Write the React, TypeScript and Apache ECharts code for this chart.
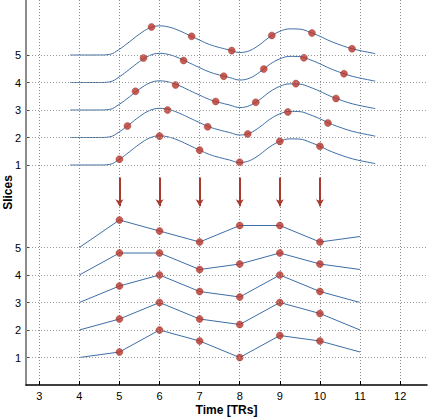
import React, { useEffect, useRef } from "react";
import * as echarts from "echarts";

// Underlying smooth signal, time in TRs
const curveTimes = [3.77, 4.0, 4.5, 4.75, 5.0, 5.25, 5.5, 5.75, 6.0, 6.25, 6.5, 6.75, 7.0, 7.25, 7.5, 7.75, 8.0, 8.25, 8.5, 8.75, 9.0, 9.25, 9.5, 9.75, 10.0, 10.25, 10.5, 10.75, 11.0, 11.38];
const curveValues = [0, 0, 0, 0.02, 0.21, 0.48, 0.76, 0.98, 1.06, 1.01, 0.88, 0.71, 0.54, 0.38, 0.27, 0.18, 0.09, 0.16, 0.38, 0.66, 0.86, 0.95, 0.94, 0.83, 0.68, 0.51, 0.37, 0.25, 0.16, 0.05];

const slices = [1, 2, 3, 4, 5];
const sliceOffsets = [0, 0.2, 0.4, 0.6, 0.8];
const trTimes = [5, 6, 7, 8, 9, 10];

// Sampled values on the top curves
const topSamples1 = [0.21, 1.05, 0.54, 0.1, 0.86, 0.68];
const topSamples2 = [0.42, 1.0, 0.39, 0.13, 0.93, 0.53];
const topSamples3 = [0.68, 0.91, 0.31, 0.28, 0.96, 0.42];
const topSamples4 = [0.89, 0.8, 0.23, 0.49, 0.9, 0.32];
const topSamples5 = [1.02, 0.68, 0.16, 0.71, 0.8, 0.23];
const topSamples = [topSamples1, topSamples2, topSamples3, topSamples4, topSamples5];

// Values plotted at TR times in the bottom panel
const bottomValues1 = [0.2, 1.0, 0.6, 0.0, 0.8, 0.6];
const bottomValues2 = [0.4, 1.0, 0.4, 0.2, 1.0, 0.6];
const bottomValues3 = [0.6, 1.0, 0.4, 0.2, 1.0, 0.4];
const bottomValues4 = [0.8, 0.8, 0.2, 0.4, 0.8, 0.4];
const bottomValues5 = [1.0, 0.6, 0.2, 0.8, 0.8, 0.2];
const bottomValues = [bottomValues1, bottomValues2, bottomValues3, bottomValues4, bottomValues5];
const bottomStartTime = 4;
const bottomStartValues = [0, 0, 0, 0, 0];
const bottomEndTime = 11;
const bottomEndValues = [0.2, 0.0, 0.0, 0.2, 0.4];

const topPanelShift = 7; // top panel slices drawn at 8..12
const arrowTimes = [5, 6, 7, 8, 9, 10];
const arrowFrom = 7.55;
const arrowTo = 6.5;

const LINE = "#3d6ea6";
const DOT = "#b8352a";
const ARROW = "#a63a2e";
const FONT = "'Liberation Sans', Arial, Helvetica, sans-serif";

export default function App() {
  const ref = useRef<HTMLDivElement>(null);
  useEffect(() => {
    document.body.style.margin = "0";
    const chart = echarts.init(ref.current!, null, { renderer: "svg" });

    const gridYs = [...slices, ...slices.map((s) => s + topPanelShift)];
    const series: any[] = [];

    series.push({
      type: "line",
      data: [],
      silent: true,
      markLine: {
        silent: true,
        symbol: "none",
        label: { show: false },
        lineStyle: { type: [1, 2], color: "#9a9a9a", width: 1 },
        data: gridYs.map((v) => ({ yAxis: v })),
        animation: false,
      },
    });
    series.push({
      type: "line",
      data: [],
      silent: true,
      markLine: {
        silent: true,
        symbol: ["none", "arrow"],
        symbolSize: [6, 7],
        label: { show: false },
        lineStyle: { type: "solid", color: ARROW, width: 2 },
        data: arrowTimes.map((t) => [
          { coord: [t, arrowFrom] },
          { coord: [t, arrowTo] },
        ]),
        animation: false,
      },
    });

    slices.forEach((s, i) => {
      const base = s + topPanelShift;
      series.push({
        type: "line",
        smooth: 0.4,
        showSymbol: false,
        lineStyle: { color: LINE, width: 1 },
        data: curveTimes.map((t, j) => [t, base + curveValues[j]]),
        z: 3,
      });
      series.push({
        type: "scatter",
        symbolSize: 7,
        itemStyle: { color: DOT, borderColor: "#9a2a20", borderWidth: 0.5 },
        data: trTimes.map((t, k) => [t + sliceOffsets[i], base + topSamples[i][k]]),
        z: 4,
      });
      const bData: number[][] = [[bottomStartTime, s + bottomStartValues[i]]];
      trTimes.forEach((t, k) => bData.push([t, s + bottomValues[i][k]]));
      bData.push([bottomEndTime, s + bottomEndValues[i]]);
      series.push({
        type: "line",
        showSymbol: false,
        lineStyle: { color: LINE, width: 1 },
        data: bData,
        z: 3,
      });
      series.push({
        type: "scatter",
        symbolSize: 7,
        itemStyle: { color: DOT, borderColor: "#9a2a20", borderWidth: 0.5 },
        data: trTimes.map((t, k) => [t, s + bottomValues[i][k]]),
        z: 4,
      });
    });

    const labelVals = gridYs;
    chart.setOption({
      animation: false,
      grid: { left: 26, right: 2, top: 0, bottom: 33, containLabel: false, outerBoundsMode: "none" },
      xAxis: {
        type: "value",
        min: 2.67,
        max: 12.67,
        splitNumber: 10,
        name: "Time [TRs]",
        nameLocation: "middle",
        nameGap: 19,
        nameMoveOverlap: false,
        nameTextStyle: { fontFamily: FONT, fontSize: 12, fontWeight: "bold", color: "#000" },
        axisLine: { onZero: false, lineStyle: { color: "#000", width: 1.5 } },
        axisTick: { inside: true, length: 4, lineStyle: { color: "#000" } },
        axisLabel: {
          fontFamily: FONT,
          fontSize: 11,
          color: "#000",
          margin: 5,
          showMinLabel: false,
          showMaxLabel: false,
          formatter: (v: number) => (Math.abs(v - Math.round(v)) < 1e-6 ? String(Math.round(v)) : ""),
        },
        splitLine: {
          show: true,
          showMinLine: false,
          showMaxLine: false,
          lineStyle: { type: [1, 2], color: "#8a8a8a", width: 1 },
        },
      },
      yAxis: {
        type: "value",
        min: 0,
        max: 14,
        interval: 1,
        name: "Slices",
        nameLocation: "middle",
        nameGap: 12,
        nameMoveOverlap: false,
        nameTextStyle: { fontFamily: FONT, fontSize: 12, fontWeight: "bold", color: "#000" },
        axisLine: { show: true, onZero: false, lineStyle: { color: "#8c8c8c", width: 2 } },
        axisTick: {
          show: true,
          inside: true,
          length: 3,
          customValues: labelVals,
          lineStyle: { color: "#444" },
        },
        axisLabel: {
          fontFamily: FONT,
          fontSize: 11,
          color: "#000",
          margin: 5,
          customValues: labelVals,
          formatter: (v: number) => {
            if (v >= 1 && v <= 5) return String(v);
            if (v >= 1 + topPanelShift && v <= 5 + topPanelShift) return String(v - topPanelShift);
            return "";
          },
        },
        splitLine: { show: false },
      },
      series,
    });
    return () => chart.dispose();
  }, []);
  return <div ref={ref} style={{ width: 429, height: 418, background: "#fff" }} />;
}
